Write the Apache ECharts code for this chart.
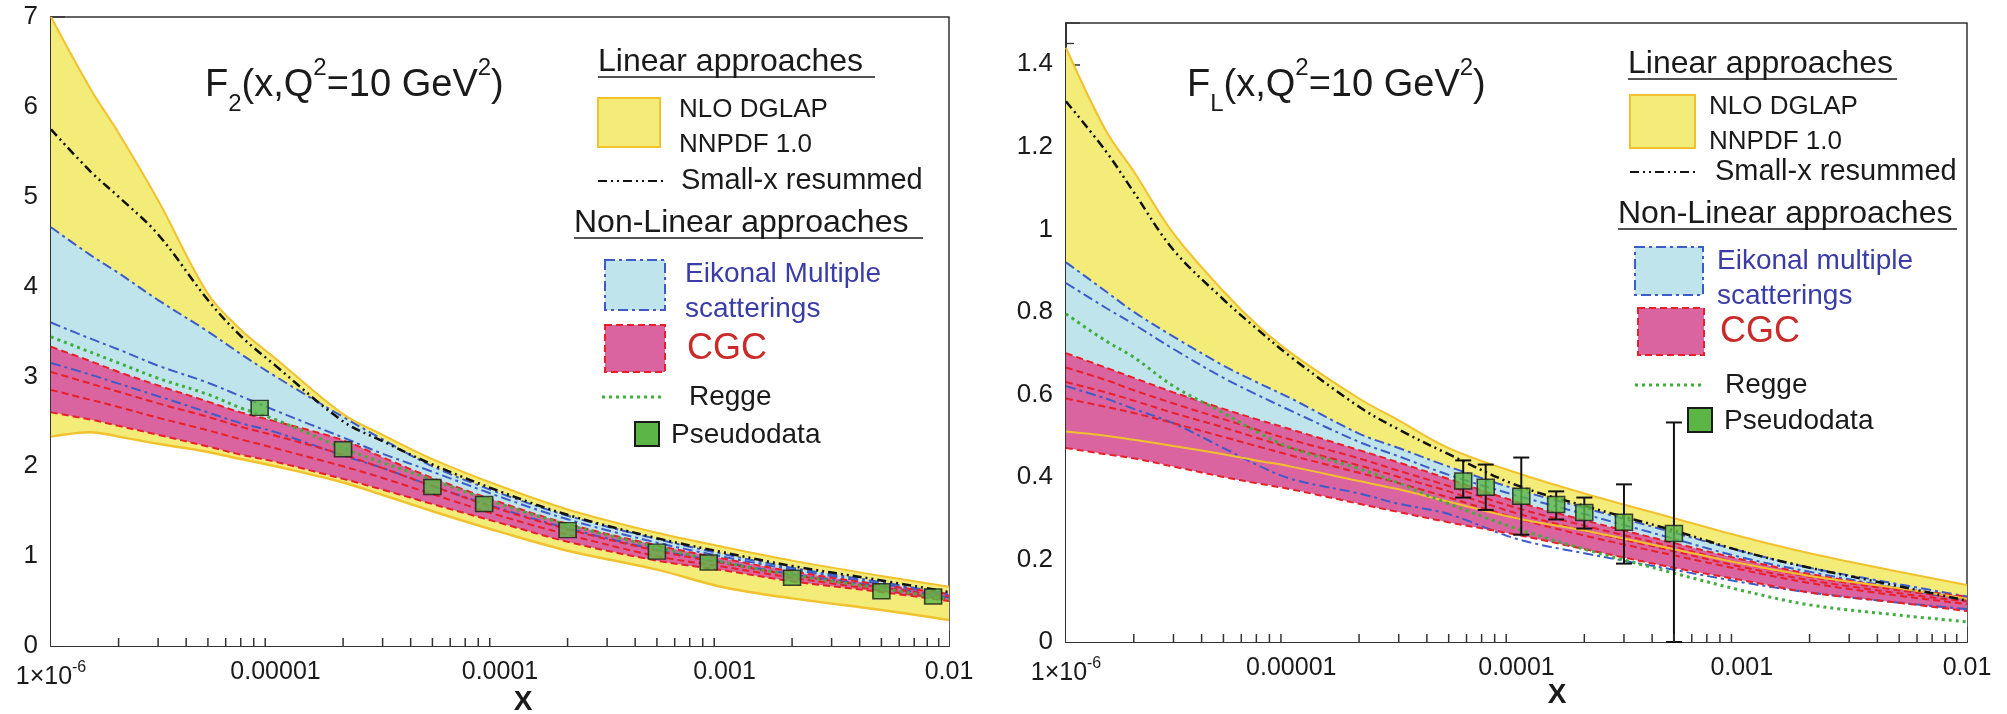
<!DOCTYPE html>
<html><head><meta charset="utf-8">
<script src="https://cdn.jsdelivr.net/npm/echarts/dist/echarts.min.js"></script>
<style>html,body{margin:0;padding:0;background:#fff}#c{width:2007px;height:714px}</style>
</head><body><div id="c"></div><script>
// ---------------- DATA ----------------
const xs = [1e-6, 1.5e-6, 2e-6, 3e-6, 5e-6, 7e-6, 1e-5, 2e-5, 3e-5, 5e-5, 1e-4, 2e-4, 5e-4, 1e-3, 2e-3, 5e-3, 1e-2];
const xTickLabels = ['1×10^-6', '0.00001', '0.0001', '0.001', '0.01'];
const minorMantissa = [2, 3, 4, 5, 6, 7, 8, 9];
const decades = [1e-6, 1e-5, 1e-4, 1e-3];

// F2 (left)
const f2YellowHi = [7.0, 6.2, 5.71, 4.96, 3.92, 3.52, 3.2, 2.58, 2.35, 2.08, 1.78, 1.52, 1.26, 1.1, 0.95, 0.78, 0.66];
const f2YellowLo = [2.33, 2.38, 2.33, 2.25, 2.16, 2.08, 2.0, 1.82, 1.68, 1.5, 1.27, 1.06, 0.85, 0.65, 0.53, 0.4, 0.29];
const f2Resum    = [5.75, 5.28, 5.0, 4.58, 3.85, 3.45, 3.12, 2.5, 2.28, 2.02, 1.72, 1.46, 1.2, 1.04, 0.89, 0.73, 0.6];
const f2EikHi    = [4.66, 4.35, 4.15, 3.85, 3.5, 3.25, 3.0, 2.55, 2.3, 2.0, 1.7, 1.45, 1.19, 1.02, 0.87, 0.71, 0.58];
const f2EikMid   = [3.6, 3.42, 3.3, 3.12, 2.93, 2.78, 2.62, 2.32, 2.14, 1.94, 1.66, 1.41, 1.15, 0.99, 0.85, 0.69, 0.57];
const f2EikLo    = [3.15, 3.02, 2.92, 2.78, 2.6, 2.48, 2.38, 2.12, 1.98, 1.78, 1.53, 1.31, 1.07, 0.93, 0.8, 0.66, 0.54];
const f2Regge    = [3.44, 3.27, 3.15, 2.98, 2.8, 2.65, 2.52, 2.2, 2.04, 1.85, 1.58, 1.35, 1.1, 0.93, 0.79, 0.64, 0.52];
const f2CgcHi    = [3.33, 3.17, 3.05, 2.9, 2.72, 2.6, 2.5, 2.29, 2.1, 1.87, 1.6, 1.36, 1.12, 0.97, 0.83, 0.68, 0.58];
const f2CgcA     = [3.05, 2.92, 2.83, 2.7, 2.55, 2.44, 2.34, 2.13, 1.98, 1.78, 1.52, 1.3, 1.06, 0.92, 0.79, 0.65, 0.55];
const f2CgcB     = [2.85, 2.74, 2.66, 2.54, 2.4, 2.3, 2.2, 2.0, 1.87, 1.69, 1.45, 1.24, 1.0, 0.88, 0.76, 0.62, 0.52];
const f2CgcLo    = [2.6, 2.52, 2.45, 2.35, 2.22, 2.13, 2.05, 1.86, 1.74, 1.58, 1.37, 1.16, 0.95, 0.84, 0.72, 0.6, 0.5];
const f2PseudoX  = [8.5e-6, 2e-5, 5e-5, 8.5e-5, 2e-4, 5e-4, 8.5e-4, 2e-3, 5e-3, 8.5e-3];
const f2PseudoY  = [2.65, 2.19, 1.77, 1.58, 1.29, 1.05, 0.93, 0.76, 0.61, 0.55];

// FL (right)
const flYellowHi = [1.44, 1.24, 1.14, 0.99, 0.85, 0.77, 0.7, 0.59, 0.537, 0.47, 0.41, 0.36, 0.3, 0.255, 0.215, 0.17, 0.138];
const flYellowLo = [0.51, 0.5, 0.49, 0.475, 0.455, 0.44, 0.425, 0.39, 0.37, 0.34, 0.3, 0.27, 0.225, 0.19, 0.16, 0.13, 0.105];
const flResum    = [1.31, 1.19, 1.09, 0.95, 0.83, 0.76, 0.69, 0.57, 0.515, 0.455, 0.38, 0.33, 0.27, 0.22, 0.18, 0.135, 0.1];
const flEikHi    = [0.92, 0.85, 0.8, 0.74, 0.67, 0.63, 0.59, 0.505, 0.47, 0.425, 0.37, 0.325, 0.265, 0.22, 0.18, 0.14, 0.11];
const flEikMid   = [0.87, 0.81, 0.77, 0.71, 0.64, 0.6, 0.56, 0.485, 0.45, 0.405, 0.355, 0.31, 0.25, 0.205, 0.17, 0.13, 0.1];
const flEikLo    = [0.62, 0.59, 0.565, 0.53, 0.47, 0.43, 0.395, 0.36, 0.335, 0.31, 0.25, 0.215, 0.175, 0.145, 0.12, 0.095, 0.08];
const flRegge    = [0.795, 0.73, 0.69, 0.62, 0.555, 0.51, 0.47, 0.42, 0.385, 0.335, 0.275, 0.225, 0.167, 0.125, 0.09, 0.065, 0.049];
const flCgcHi    = [0.7, 0.665, 0.64, 0.605, 0.565, 0.54, 0.515, 0.465, 0.435, 0.395, 0.34, 0.295, 0.24, 0.2, 0.165, 0.13, 0.11];
const flCgcA     = [0.665, 0.635, 0.61, 0.578, 0.54, 0.515, 0.49, 0.445, 0.415, 0.378, 0.325, 0.282, 0.23, 0.19, 0.158, 0.125, 0.105];
const flCgcB     = [0.63, 0.605, 0.585, 0.555, 0.52, 0.495, 0.47, 0.428, 0.4, 0.365, 0.312, 0.27, 0.22, 0.182, 0.15, 0.118, 0.098];
const flCgcC     = [0.59, 0.57, 0.555, 0.53, 0.497, 0.475, 0.452, 0.41, 0.385, 0.35, 0.3, 0.258, 0.21, 0.175, 0.143, 0.112, 0.092];
const flCgcLo    = [0.47, 0.455, 0.445, 0.425, 0.4, 0.385, 0.37, 0.335, 0.315, 0.29, 0.26, 0.225, 0.18, 0.15, 0.12, 0.095, 0.075];
const flPseudoX  = [5.8e-5, 7.3e-5, 1.05e-4, 1.5e-4, 2e-4, 3e-4, 5e-4];
const flPseudoY  = [0.39, 0.375, 0.353, 0.333, 0.314, 0.29, 0.263];
const flErrLo    = [0.35, 0.32, 0.26, 0.297, 0.275, 0.19, 0.0];
const flErrHi    = [0.44, 0.43, 0.447, 0.365, 0.35, 0.382, 0.532];

// ---------------- STYLE ----------------
const FONT = '"Liberation Sans", Arial, Helvetica, sans-serif';
const C = {
  yellow: '#f3ec78', yellowEdge: '#f2c12e', cyan: '#bfe4ec', pink: '#d9649f',
  red: '#e8202a', blue: '#3d5cc8', green: '#3fae3f', black: '#111111',
  marker: '#5cb646', axis: '#333333', text: '#1a1a1a', white: '#ffffff'
};
const DASH = { resum: [9, 4, 2, 4, 2, 4], dashdot: [10, 4, 3, 4], dashed: [7, 4], dotted: [3, 4] };
const SMOOTH = 0.35;

const minorX = [];
decades.forEach(d => minorMantissa.forEach(m => minorX.push(m * d)));

function P(ys) { return xs.map((x, i) => [x, ys[i]]); }
// filled area from a curve down to the axis minimum; layered to build the bands
function fillS(ys, color, gi) {
  return { type: 'line', xAxisIndex: gi, yAxisIndex: gi, data: P(ys), symbol: 'none', smooth: SMOOTH,
    lineStyle: { width: 0, opacity: 0 }, areaStyle: { color: color, opacity: 1, origin: 'start' }, silent: true, z: 2 };
}
function lineS(ys, color, width, dash, gi) {
  return { type: 'line', xAxisIndex: gi, yAxisIndex: gi, data: P(ys), symbol: 'none', smooth: SMOOTH,
    lineStyle: { color: color, width: width, type: dash }, silent: true, z: 3 };
}
function minorTicks(gi) {
  return { type: 'custom', xAxisIndex: gi, yAxisIndex: gi, data: minorX.map(x => [x, 0]), encode: { x: 0, y: 1 },
    clip: false, silent: true, z: 20,
    renderItem: (p, api) => {
      const c = api.coord([api.value(0), 0]);
      return { type: 'line', shape: { x1: c[0], y1: c[1], x2: c[0], y2: c[1] - 8 }, style: { stroke: C.axis, lineWidth: 1.5 } };
    } };
}
function xAx(gi) {
  return {
    type: 'log', logBase: 10, gridIndex: gi, min: 1e-6, max: 1e-2,
    axisLine: { lineStyle: { color: C.axis, width: 2 } },
    axisTick: { inside: true, length: 15, lineStyle: { color: C.axis, width: 1.5 } },
    splitLine: { show: false },
    axisLabel: {
      margin: 14, color: C.text, fontSize: 25, fontFamily: FONT, showMinLabel: true, showMaxLabel: true,
      formatter: v => {
        const k = Math.round(Math.log10(v)) + 6;
        const s = xTickLabels[k] || '';
        if (s.indexOf('^') >= 0) { const pr = s.split('^'); return '{a|' + pr[0] + '}{s|' + pr[1] + '}'; }
        return s;
      },
      rich: {
        a: { fontSize: 25, lineHeight: 34, fontFamily: FONT, color: C.text },
        s: { fontSize: 16, lineHeight: 20, verticalAlign: 'top', fontFamily: FONT, color: C.text }
      }
    }
  };
}
function yAx(gi, max, interval, minorSplit, showMax) {
  return {
    type: 'value', gridIndex: gi, min: 0, max: max, interval: interval,
    axisLine: { show: true, lineStyle: { color: C.axis, width: 2 } },
    axisTick: { show: true, inside: true, length: 14, lineStyle: { color: C.axis, width: 1.5 } },
    minorTick: { show: true, splitNumber: minorSplit, length: 8, lineStyle: { color: C.axis, width: 1.3 } },
    splitLine: { show: false }, minorSplitLine: { show: false },
    axisLabel: { margin: 13, fontSize: 26, color: C.text, fontFamily: FONT, showMaxLabel: showMax }
  };
}
function errorBars(gi) {
  return { type: 'custom', xAxisIndex: gi, yAxisIndex: gi, data: flPseudoX.map((x, i) => [x, flErrLo[i], flErrHi[i]]),
    encode: { x: 0, y: [1, 2] }, z: 9, silent: true,
    renderItem: (p, api) => {
      const x = api.value(0);
      const a = api.coord([x, api.value(1)]), b = api.coord([x, api.value(2)]);
      const w = 8, st = { stroke: '#111', lineWidth: 2 };
      return { type: 'group', children: [
        { type: 'line', shape: { x1: a[0], y1: a[1], x2: b[0], y2: b[1] }, style: st },
        { type: 'line', shape: { x1: a[0] - w, y1: a[1], x2: a[0] + w, y2: a[1] }, style: st },
        { type: 'line', shape: { x1: b[0] - w, y1: b[1], x2: b[0] + w, y2: b[1] }, style: st }
      ] };
    } };
}

// ---------------- SERIES ----------------
const series = [
  // left: bands built by layering (yellow, cyan, pink, restore yellow below CGC, white below DGLAP band)
  fillS(f2YellowHi, C.yellow, 0),
  fillS(f2EikHi, C.cyan, 0),
  fillS(f2CgcHi, C.pink, 0),
  fillS(f2CgcLo, C.yellow, 0),
  fillS(f2YellowLo, C.white, 0),
  lineS(f2YellowHi, C.yellowEdge, 2, 'solid', 0),
  lineS(f2YellowLo, C.yellowEdge, 2.5, 'solid', 0),
  lineS(f2EikHi, C.blue, 2, DASH.dashdot, 0),
  lineS(f2EikMid, C.blue, 2, DASH.dashdot, 0),
  lineS(f2EikLo, C.blue, 2, DASH.dashdot, 0),
  lineS(f2CgcHi, C.red, 2, DASH.dashed, 0),
  lineS(f2CgcA, C.red, 2, DASH.dashed, 0),
  lineS(f2CgcB, C.red, 2, DASH.dashed, 0),
  lineS(f2CgcLo, C.red, 2, DASH.dashed, 0),
  lineS(f2Regge, C.green, 3, DASH.dotted, 0),
  lineS(f2Resum, C.black, 2.5, DASH.resum, 0),
  { type: 'scatter', xAxisIndex: 0, yAxisIndex: 0, data: f2PseudoX.map((x, i) => [x, f2PseudoY[i]]),
    symbol: 'rect', symbolSize: [17, 15], itemStyle: { color: C.marker, borderColor: '#1a1a1a', borderWidth: 1.5 }, z: 10, silent: true },
  minorTicks(0),
  // right
  fillS(flYellowHi, C.yellow, 1),
  fillS(flEikHi, C.cyan, 1),
  fillS(flCgcHi, C.pink, 1),
  fillS(flCgcLo, C.white, 1),
  lineS(flYellowHi, C.yellowEdge, 2, 'solid', 1),
  lineS(flEikHi, C.blue, 2, DASH.dashdot, 1),
  lineS(flEikMid, C.blue, 2, DASH.dashdot, 1),
  lineS(flEikLo, C.blue, 2, DASH.dashdot, 1),
  lineS(flCgcHi, C.red, 2, DASH.dashed, 1),
  lineS(flCgcA, C.red, 2, DASH.dashed, 1),
  lineS(flCgcB, C.red, 2, DASH.dashed, 1),
  lineS(flCgcC, C.red, 2, DASH.dashed, 1),
  lineS(flCgcLo, C.red, 2, DASH.dashed, 1),
  lineS(flYellowLo, C.yellowEdge, 2, 'solid', 1),
  lineS(flRegge, C.green, 3, DASH.dotted, 1),
  lineS(flResum, C.black, 2.5, DASH.resum, 1),
  errorBars(1),
  { type: 'scatter', xAxisIndex: 1, yAxisIndex: 1, data: flPseudoX.map((x, i) => [x, flPseudoY[i]]),
    symbol: 'rect', symbolSize: [17, 16], itemStyle: { color: C.marker, borderColor: '#1a1a1a', borderWidth: 1.5 }, z: 10, silent: true },
  minorTicks(1)
];

// ---------------- GRAPHIC (titles, legends) ----------------
const G = [];
function txt(x, y, s, size, color, extra) {
  G.push(Object.assign({ type: 'text', x: x, y: y, z: 100,
    style: { text: s, font: size + 'px ' + FONT, fill: color || C.text, verticalAlign: 'middle', align: 'left' } }, extra || {}));
}
function hline(x1, x2, y, color, w, dash) {
  G.push({ type: 'line', z: 100, shape: { x1: x1, y1: y, x2: x2, y2: y }, style: { stroke: color, lineWidth: w, lineDash: dash || null } });
}
function box(x, y, w, h, fill, stroke, dash) {
  G.push({ type: 'rect', z: 100, shape: { x: x, y: y, width: w, height: h }, style: { fill: fill, stroke: stroke, lineWidth: 2, lineDash: dash || null } });
}
function title(x, y, sub) {
  G.push({ type: 'text', x: x, y: y, z: 100, style: {
    text: '{m|F}{b|' + sub + '}{m|(x,Q}{p|2}{m|=10 GeV}{p|2}{m|)}', verticalAlign: 'middle', align: 'left',
    rich: {
      m: { fontSize: 38, lineHeight: 60, fontFamily: FONT, fill: C.text },
      b: { fontSize: 24, lineHeight: 24, verticalAlign: 'bottom', fontFamily: FONT, fill: C.text },
      p: { fontSize: 24, lineHeight: 30, verticalAlign: 'top', fontFamily: FONT, fill: C.text }
    } } });
}
function legend(o) {
  txt(o.h1x, o.h1y, 'Linear approaches', 32);
  hline(o.h1x, o.h1x + o.h1w, o.h1y + 15, C.text, 1.5);
  box(o.ybx, o.yby, o.ybw, o.ybh, C.yellow, C.yellowEdge);
  txt(o.tx1, o.yby + 12, 'NLO DGLAP', 26);
  txt(o.tx1, o.yby + 47, 'NNPDF 1.0', 26);
  hline(o.ybx, o.ybx + o.ybw + 4, o.sy, C.black, 2, DASH.resum);
  txt(o.tx2, o.sy, 'Small-x resummed', 29);
  txt(o.h2x, o.h2y, 'Non-Linear approaches', 32);
  hline(o.h2x, o.h2x + o.h2w, o.h2y + 15, C.text, 1.5);
  box(o.cbx, o.cby, o.cbw, o.cbh, C.cyan, C.blue, DASH.dashdot);
  txt(o.tx3, o.cby + 14, o.eik, 28, '#3a3ca8');
  txt(o.tx3, o.cby + 49, 'scatterings', 28, '#3a3ca8');
  box(o.pbx, o.pby, o.pbw, o.pbh, C.pink, C.red, DASH.dashed);
  txt(o.tx4, o.pby + 24, 'CGC', 36, '#cc2a2a');
  hline(o.pbx - 3, o.pbx + o.pbw, o.gy, C.green, 3, DASH.dotted);
  txt(o.tx5, o.gy, 'Regge', 28);
  G.push({ type: 'rect', z: 100, shape: { x: o.mx - 12, y: o.my - 12, width: 24, height: 24 }, style: { fill: C.marker, stroke: '#1a1a1a', lineWidth: 2 } });
  txt(o.mx + 24, o.my + 1, 'Pseudodata', 28);
}
title(205, 86, '2');
title(1187, 86, 'L');
legend({ h1x: 598, h1y: 62, h1w: 277, ybx: 598, yby: 98, ybw: 62, ybh: 49, tx1: 679, sy: 181, tx2: 681,
  h2x: 574, h2y: 223, h2w: 349, cbx: 605, cby: 260, cbw: 60, cbh: 50, tx3: 685, eik: 'Eikonal Multiple',
  pbx: 605, pby: 325, pbw: 60, pbh: 47, tx4: 687, gy: 397, tx5: 689, mx: 647, my: 434 });
legend({ h1x: 1628, h1y: 64, h1w: 269, ybx: 1630, yby: 95, ybw: 65, ybh: 53, tx1: 1709, sy: 172, tx2: 1715,
  h2x: 1618, h2y: 214, h2w: 339, cbx: 1635, cby: 247, cbw: 68, cbh: 48, tx3: 1717, eik: 'Eikonal multiple',
  pbx: 1638, pby: 308, pbw: 66, pbh: 47, tx4: 1720, gy: 385, tx5: 1725, mx: 1700, my: 420 });
G.push({ type: 'text', x: 523, y: 702, z: 100, style: { text: 'X', font: 'bold 28px ' + FONT, fill: C.text, align: 'center', verticalAlign: 'middle' } });
G.push({ type: 'text', x: 1557, y: 695, z: 100, style: { text: 'X', font: 'bold 28px ' + FONT, fill: C.text, align: 'center', verticalAlign: 'middle' } });

// ---------------- CHART ----------------
const chart = echarts.init(document.getElementById('c'), null, { renderer: 'canvas' });
chart.setOption({
  backgroundColor: '#ffffff',
  animation: false,
  grid: [
    { left: 51, top: 17, width: 898, height: 629, show: true, borderColor: C.axis, borderWidth: 1.5, containLabel: false, outerBoundsMode: 'none' },
    { left: 1066, top: 23, width: 901, height: 619, show: true, borderColor: C.axis, borderWidth: 1.5, containLabel: false, outerBoundsMode: 'none' }
  ],
  xAxis: [xAx(0), xAx(1)],
  yAxis: [yAx(0, 7, 1, 5, true), yAx(1, 1.5, 0.2, 4, false)],
  series: series,
  graphic: G
});
</script></body></html>
